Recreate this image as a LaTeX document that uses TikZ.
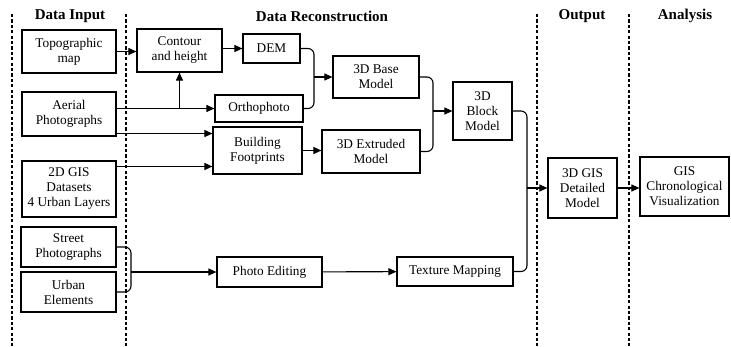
\documentclass[tikz,border=0pt]{standalone}
\usepackage{fontspec}
\setmainfont{Liberation Serif}
\usetikzlibrary{arrows.meta}
\tikzset{
	blk/.style={draw, line width=1.2pt, align=center, inner sep=1pt, font=\fontsize{13.3}{15}\selectfont},
	arr/.style={-{Triangle[length=8pt,width=7pt]}, line width=1.1pt},
	merge/.style={line width=1.1pt, rounded corners=6pt},
	sep/.style={line width=1.4pt, dash pattern=on 3.2pt off 2.2pt},
	hdr/.style={font=\fontsize{15}{17}\selectfont\bfseries},
}

\begin{document}
\begin{tikzpicture}[x=1pt,y=-1pt]
	\useasboundingbox (0,0) rectangle (731,346);
	\foreach \x in {12,126,537,629}
	{
		\draw[sep] (\x,14) -- (\x,346);
	}
	\node[hdr] (hin) at (70,16) {Data Input};
	\node[hdr] (hrec) at (322,16) {Data Reconstruction};
	\node[hdr] (hout) at (582,16) {Output};
	\node[hdr] (hana) at (685,16) {Analysis};

	\node[blk, minimum width=94pt, minimum height=43pt] (topo) at (69,51.5) {Topographic\\map};
	\node[blk, minimum width=94pt, minimum height=44pt] (aerial) at (69,114) {Aerial\\Photographs};
	\node[blk, minimum width=94pt, minimum height=56pt] (gis) at (69,189) {2D GIS\\Datasets\\4 Urban Layers};
	\node[blk, minimum width=95pt, minimum height=40pt] (street) at (68.5,247) {Street\\Photographs};
	\node[blk, minimum width=95pt, minimum height=40pt] (urban) at (68.5,292) {Urban\\Elements};

	\node[blk, minimum width=85pt, minimum height=43pt] (contour) at (179.5,50.5) {Contour\\and height};
	\node[blk, minimum width=57pt, minimum height=29pt] (dem) at (271.5,48.5) {DEM};
	\node[blk, minimum width=88pt, minimum height=27pt] (ortho) at (259,108.5) {Orthophoto};
	\node[blk, minimum width=89pt, minimum height=47pt] (build) at (257.5,150.5) {Building\\Footprints};
	\node[blk, minimum width=86pt, minimum height=42pt] (base) at (376,77) {3D Base\\Model};
	\node[blk, minimum width=98pt, minimum height=43pt] (extr) at (371,151.5) {3D Extruded\\Model};
	\node[blk, minimum width=59pt, minimum height=58pt] (block) at (482.5,111) {3D\\Block\\Model};
	\node[blk, minimum width=105pt, minimum height=30pt] (photo) at (269.5,272) {Photo Editing};
	\node[blk, minimum width=116pt, minimum height=29pt] (tex) at (455,271.5) {Texture Mapping};

	\node[blk, minimum width=69pt, minimum height=60pt] (det) at (582.5,188) {3D GIS\\Detailed\\Model};
	\node[blk, minimum width=89pt, minimum height=59pt] (chrono) at (684.5,186.5) {GIS\\Chronological\\Visualization};

	\draw[arr] (topo.east) -- (topo.east -| contour.west);
	\draw[arr] (contour.east |- dem.west) -- (dem.west);
	\draw[arr] (aerial.east |- ortho.west) -- (ortho.west);
	\draw[arr] (contour.south |- ortho.west) -- (contour.south);
	\coordinate (b1) at ([yshift=17pt]build.west);
	\coordinate (b2) at ([yshift=-16pt]build.west);
	\draw[arr] (aerial.east |- b1) -- (b1);
	\draw[arr] (gis.east |- b2) -- (b2);
	\draw[arr] (build.east) -- (build.east -| extr.west);

	\coordinate (j1) at (314,77);
	\draw[merge] (dem.east) -| (j1) |- (ortho.east);
	\draw[arr] (j1) -- (base.west);
	\coordinate (j2) at (433,111);
	\draw[merge] (base.east) -| (j2) |- (extr.east);
	\draw[arr] (j2) -- (block.west);
	\coordinate (j3) at (527,188);
	\draw[merge] (block.east) -| (j3) |- (tex.east);
	\draw[arr] (j3) -- (det.west);
	\draw[arr] (det.east) -- (det.east -| chrono.west);

	\coordinate (j4) at (131,272);
	\draw[merge] (street.east) -| (j4) |- (urban.east);
	\draw[arr] (j4) -- (photo.west);
	\draw[arr] (photo) -- (tex);
\end{tikzpicture}
\end{document}
